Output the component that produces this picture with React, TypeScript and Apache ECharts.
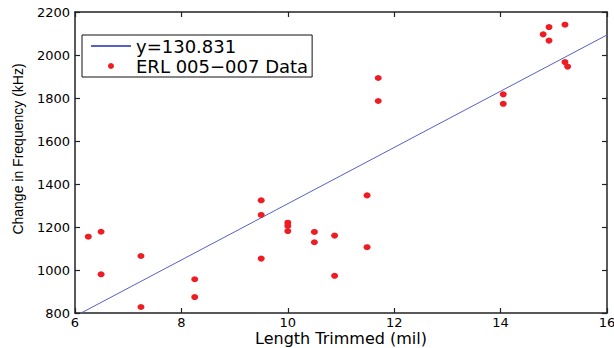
import React, { useEffect, useRef } from "react";
import * as echarts from "echarts";

const trimmedMil = [6.25, 6.49, 6.49, 7.24, 7.24, 8.25, 8.25, 9.5, 9.5, 9.5, 10, 10, 10, 10.5, 10.5, 10.88, 10.88, 11.49, 11.49, 11.7, 11.7, 14.05, 14.05, 14.8, 14.91, 14.91, 15.21, 15.21, 15.26];
const freqChange = [1155, 1178, 980, 1065, 828, 957, 874, 1324, 1256, 1053, 1220, 1205, 1181, 1177, 1129, 1160, 973, 1347, 1106, 1893, 1786, 1817, 1773, 2096, 2130, 2067, 2141, 1967, 1946];
const fitX = [6.115, 16];
const fitY = [800, 2093.3];
const lineName = "y=130.831";
const dataName = "ERL 005\u2212007 Data";
const xTicks = { min: 6, max: 16, interval: 2 };
const yTicks = { min: 800, max: 2200, interval: 200 };

export default function App() {
  const ref = useRef<HTMLDivElement>(null);
  useEffect(() => {
    if (!ref.current) return;
    const chart = echarts.init(ref.current, null, { renderer: "svg" });
    const axisColor = "#222";
    const font = "DejaVu Sans";
    const baseAxis = {
      type: "value",
      axisLine: { show: true, lineStyle: { color: axisColor, width: 1.5 } },
      axisTick: { show: true, inside: true, length: 5, lineStyle: { color: axisColor, width: 1.2 } },
      splitLine: { show: false },
    };
    chart.setOption({
      animation: false,
      backgroundColor: "#fff",
      grid: { left: 75, right: 7, top: 12, bottom: 35, containLabel: false, outerBoundsMode: "none" },
      xAxis: [
        {
          ...baseAxis,
          position: "bottom",
          ...xTicks,
          name: "Length Trimmed (mil)",
          nameLocation: "middle",
          nameGap: 17.5,
          nameMoveOverlap: false,
          nameTextStyle: { fontFamily: font, fontSize: 16, color: "#000", verticalAlign: "top" },
          axisLabel: { fontFamily: font, fontSize: 13, color: "#000", margin: 2.5, formatter: (v: number) => String(v) },
        },
        {
          ...baseAxis,
          position: "top",
          ...xTicks,
          axisLabel: { show: false },
        },
      ],
      yAxis: [
        {
          ...baseAxis,
          position: "left",
          ...yTicks,
          axisLabel: { fontFamily: font, fontSize: 13, color: "#000", margin: 5, formatter: (v: number) => String(v) },
        },
        {
          ...baseAxis,
          position: "right",
          ...yTicks,
          axisLabel: { show: false },
        },
      ],
      legend: {
        orient: "vertical",
        left: 82,
        top: 35,
        backgroundColor: "#fff",
        borderColor: "#111",
        borderWidth: 1,
        borderRadius: 0,
        padding: [2, 4, 2, 8],
        itemGap: 2,
        itemWidth: 40,
        itemHeight: 6,
        textStyle: { fontFamily: font, fontSize: 18, color: "#000" },
        data: [
          { name: lineName, itemStyle: { opacity: 0 } },
          { name: dataName, icon: "circle" },
        ],
      },
      graphic: [
        {
          type: "text",
          x: 18,
          y: 149,
          rotation: Math.PI / 2,
          style: {
            text: "Change in Frequency (kHz)",
            fontFamily: "Liberation Sans",
            fontSize: 14,
            fill: "#000",
            textAlign: "center",
            textVerticalAlign: "middle",
          },
        },
      ],
      series: [
        {
          name: lineName,
          type: "line",
          symbol: "none",
          xAxisIndex: 0,
          yAxisIndex: 0,
          data: fitX.map((x, i) => [x, fitY[i]]),
          lineStyle: { color: "#5560c8", width: 1 },
          itemStyle: { color: "#5560c8" },
          z: 3,
        },
        {
          name: dataName,
          type: "scatter",
          xAxisIndex: 0,
          yAxisIndex: 0,
          symbol: "circle",
          symbolSize: [7, 6],
          data: trimmedMil.map((x, i) => [x, freqChange[i]]),
          itemStyle: { color: "#ee1d23", opacity: 1 },
          z: 4,
        },
      ],
    });
    return () => chart.dispose();
  }, []);
  return <div ref={ref} style={{ position: "fixed", left: 0, top: 0, width: 614, height: 348 }} />;
}
